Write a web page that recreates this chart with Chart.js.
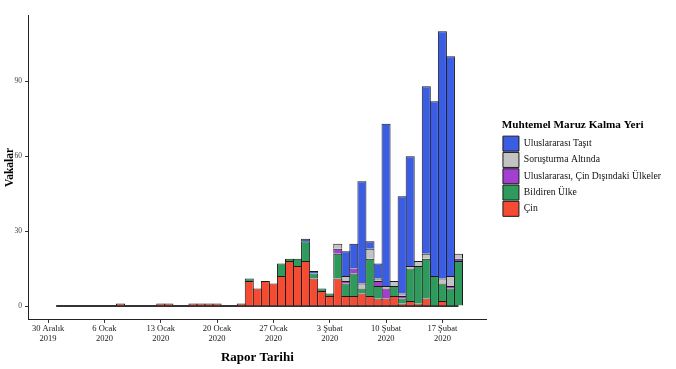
<!DOCTYPE html>
<html>
<head>
<meta charset="utf-8">
<script src="https://cdn.jsdelivr.net/npm/chart.js@4"></script>
<style>
  body { margin: 0; background: #fff; }
</style>
</head>
<body>
<canvas id="myChart" width="676" height="369"></canvas>
<script>
// gunluk vakalar, 30 Aralik 2019 - 19 Subat 2020
var cin = [null, 0, 0, 0, 0, 0, 0, 0, 0, 1, 0, 0, 0, 0, 1, 1, 0, 0, 1, 1, 1, 1, 0, 0, 1,
  10, 7, 10, 9, 12, 18, 16, 18, 11, 6, 4, 11, 4, 4, 5, 4, 3, 3, 4, 1, 2, 1, 3, 0, 2, 0, 0]
var bildiren = [null, 0, 0, 0, 0, 0, 0, 0, 0, 0, 0, 0, 0, 0, 0, 0, 0, 0, 0, 0, 0, 0, 0, 0, 0,
  1, 0, 0, 0, 5, 1, 3, 8, 2, 1, 1, 10, 5, 9, 2, 15, 5, 0, 4, 2, 13, 15, 16, 12, 7, 7, 18]
var disUlke = [null, 0, 0, 0, 0, 0, 0, 0, 0, 0, 0, 0, 0, 0, 0, 0, 0, 0, 0, 0, 0, 0, 0, 0, 0,
  0, 0, 0, 0, 0, 0, 0, 0, 0, 0, 0, 2, 1, 2, 0, 0, 2, 4, 0, 1, 0, 0, 0, 0, 0, 1, 1]
var sorusturma = [null, 0, 0, 0, 0, 0, 0, 0, 0, 0, 0, 0, 0, 0, 0, 0, 0, 0, 0, 0, 0, 0, 0, 0, 0,
  0, 0, 0, 0, 0, 0, 0, 0, 0, 0, 0, 2, 2, 0, 2, 4, 1, 1, 2, 1, 1, 2, 2, 0, 2, 4, 2]
var tasit = [null, 0, 0, 0, 0, 0, 0, 0, 0, 0, 0, 0, 0, 0, 0, 0, 0, 0, 0, 0, 0, 0, 0, 0, 0,
  0, 0, 0, 0, 0, 0, 0, 1, 1, 0, 0, 0, 10, 10, 41, 3, 6, 65, 0, 39, 44, 0, 67, 70, 99, 88, 0]
// sifir cizgisi (veri olan gunler)
var sifir = [null, 0, 0, 0, 0, 0, 0, 0, 0, 0, 0, 0, 0, 0, 0, 0, 0, 0, 0, 0, 0, 0, 0, 0, 0,
  0, 0, 0, 0, 0, 0, 0, 0, 0, 0, 0, 0, 0, 0, 0, 0, 0, 0, 0, 0, 0, 0, 0, 0, 0, 0, 0]

var tickDates = ['2019-12-30', '2020-01-06', '2020-01-13', '2020-01-20', '2020-01-27', '2020-02-03', '2020-02-10', '2020-02-17']
var tickLabels = [['30 Aralık', '2019'], ['6 Ocak', '2020'], ['13 Ocak', '2020'], ['20 Ocak', '2020'],
  ['27 Ocak', '2020'], ['3 Şubat', '2020'], ['10 Şubat', '2020'], ['17 Şubat', '2020']]

// eksen icin gunler (iki gun once, uc gun sonra bos)
var gunler = []
for (var i = 0; i < 57; i++) {
  var d = new Date(Date.UTC(2019, 11, 28 + i))
  gunler.push(d.toISOString().slice(0, 10))
}
function pad(a) { return [null, null].concat(a, [null, null, null]) }

var serif = 'Liberation Serif'
var kenar = '#1a1a1a'
function ds(label, data, color) {
  return {
    label: label, data: pad(data), backgroundColor: color, borderColor: kenar,
    borderWidth: 1, barPercentage: 1.124, categoryPercentage: 1
  }
}

var sets = [
  ds('Çin', cin, '#f44b32'),
  ds('Bildiren Ülke', bildiren, '#2e9b5c'),
  ds('Uluslararası, Çin Dışındaki Ülkeler', disUlke, '#a23fd1'),
  ds('Soruşturma Altında', sorusturma, '#c3c3c3'),
  ds('Uluslararası Taşıt', tasit, '#3a5de4'),
  {
    type: 'line', label: 'sifir', data: pad(sifir), borderColor: '#333', borderWidth: 2,
    pointRadius: 0, order: 1
  }
]

let ctx = document.getElementById('myChart').getContext('2d')
let chart = new Chart(ctx, {
  type: 'bar',
  data: { labels: gunler, datasets: sets },
  options: {
    responsive: false,
    animation: false,
    layout: { padding: { top: 15, left: 4, right: 5, bottom: 0 } },
    plugins: {
      tooltip: { enabled: false },
      legend: {
        position: 'right',
        align: 'start',
        reverse: true,
        maxWidth: 200,
        title: {
          display: true, text: 'Muhtemel Maruz Kalma Yeri', position: 'start', color: '#000',
          font: { family: serif, size: 11.2, weight: 'bold', lineHeight: 1.2 }, padding: { top: 105, bottom: 1.4 }
        },
        labels: {
          boxWidth: 16, boxHeight: 15, padding: 1.3, color: '#111',
          font: { family: serif, size: 9.7 },
          filter: function (item) { return item.text != 'sifir' }
        }
      }
    },
    scales: {
      x: {
        stacked: true,
        offset: true,
        grid: { offset: false, drawOnChartArea: false, tickLength: 3, color: '#333' },
        border: { color: '#222', width: 1 },
        afterBuildTicks: function (s) {
          s.ticks = s.ticks.filter(function (t) { return tickDates.indexOf(gunler[t.value]) >= 0 })
        },
        ticks: {
          autoSkip: false, maxRotation: 0, padding: 1, color: '#1a1a1a',
          font: { family: serif, size: 8.5, lineHeight: 1.18 },
          callback: function (v) { return tickLabels[tickDates.indexOf(gunler[v])] }
        },
        title: {
          display: true, text: 'Rapor Tarihi', color: '#000',
          font: { family: serif, size: 13, weight: 'bold', lineHeight: 1.2 }, padding: { top: 4.7, bottom: 3.7 }
        }
      },
      y: {
        stacked: true,
        min: -5.55,
        max: 116.55,
        grid: { drawOnChartArea: false, tickLength: 3, color: '#333' },
        border: { color: '#222', width: 1 },
        afterBuildTicks: function (s) {
          s.ticks = [0, 30, 60, 90].map(function (v) { return { value: v } })
        },
        afterFit: function (s) { s.width = 24 },
        ticks: { padding: 3, color: '#444', font: { family: serif, size: 7.5 } },
        title: {
          display: true, text: 'Vakalar', color: '#000',
          font: { family: serif, size: 11.5, weight: 'bold', lineHeight: 1 }, padding: { top: 0, bottom: 0 }
        }
      },
      // grafik ile lejant arasi bosluk
      bosluk: {
        type: 'linear', position: 'right', display: true,
        grid: { display: false }, ticks: { display: false }, border: { display: false },
        afterFit: function (s) { s.width = 15 }
      }
    }
  }
})
</script>
</body>
</html>
